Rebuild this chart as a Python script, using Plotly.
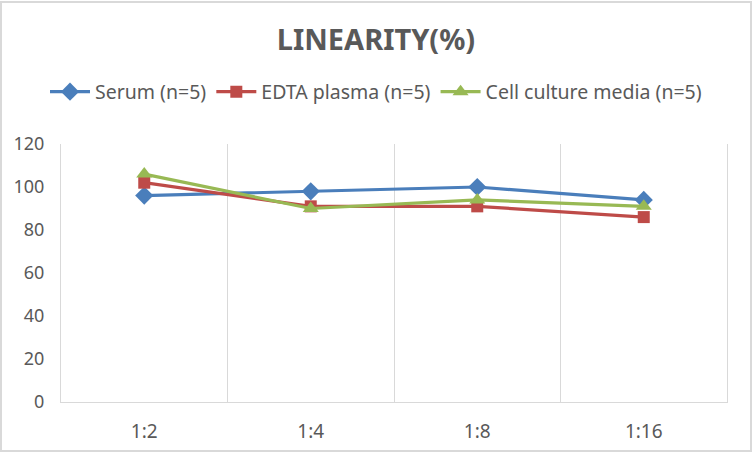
import plotly.graph_objects as go

dilutions = ["1:2", "1:4", "1:8", "1:16"]
serum = [96, 98, 100, 94]
edta_plasma = [102, 91, 91, 86]
cell_culture = [106, 90, 94, 91]

W, H = 752, 452
L, R, T, B = 61, 25, 144, 50
plot_w = W - L - R
plot_h = H - T - B

FONT = "Noto Sans"
GREY = "#595959"
LIGHT = "#d9d9d9"

fig = go.Figure()

series = [
    ("Serum (n=5)", serum, "#4a7ebb", "diamond", 14),
    ("EDTA plasma (n=5)", edta_plasma, "#be4b48", "square", 12),
    ("Cell culture media (n=5)", cell_culture, "#98b954", "triangle-up", 14),
]
for name, vals, color, sym, size in series:
    fig.add_trace(go.Scatter(
        x=dilutions, y=vals, name=name, mode="lines+markers",
        line=dict(color=color, width=3.2),
        marker=dict(symbol=sym, size=size, color=color),
    ))

# outer chart border
fig.add_shape(type="rect", xref="paper", yref="paper",
              x0=(1 - L) / plot_w, x1=(W - 1 - L) / plot_w,
              y0=-(B - 1) / plot_h, y1=1 + (T - 2) / plot_h,
              line=dict(color=LIGHT, width=2))

fig.update_layout(
    width=W, height=H,
    margin=dict(l=L, r=R, t=T, b=B, autoexpand=False),
    paper_bgcolor="white", plot_bgcolor="white",
    font=dict(family=FONT, color=GREY, size=15),
    title=dict(text="<b>LINEARITY(%)</b>", x=0.5, xanchor="center",
               y=1 - 40 / H, yanchor="middle",
               font=dict(family=FONT, size=29, color=GREY)),
    legend=dict(orientation="h", x=(W / 2 - L) / plot_w, xanchor="center",
                y=(402 - 92) / plot_h, yanchor="middle",
                font=dict(size=19.5, color=GREY), itemwidth=40),
    showlegend=True,
)

fig.update_xaxes(type="category", range=[-0.5, 3.5], tickson="boundaries",
                 showgrid=True, gridcolor=LIGHT, gridwidth=1,
                 showline=True, linecolor=LIGHT, linewidth=1,
                 ticks="", ticklabelstandoff=12, automargin=False,
                 tickfont=dict(size=19, color=GREY), zeroline=False)
fig.update_yaxes(range=[0, 120], dtick=20, showgrid=False, zeroline=False,
                 showline=True, mirror=True, linecolor=LIGHT, linewidth=1,
                 ticks="", ticklabelstandoff=12, automargin=False,
                 tickfont=dict(size=18, color=GREY))

fig.write_html("out.html", config={"displayModeBar": False},
               post_script="document.body.style.margin='0';")
